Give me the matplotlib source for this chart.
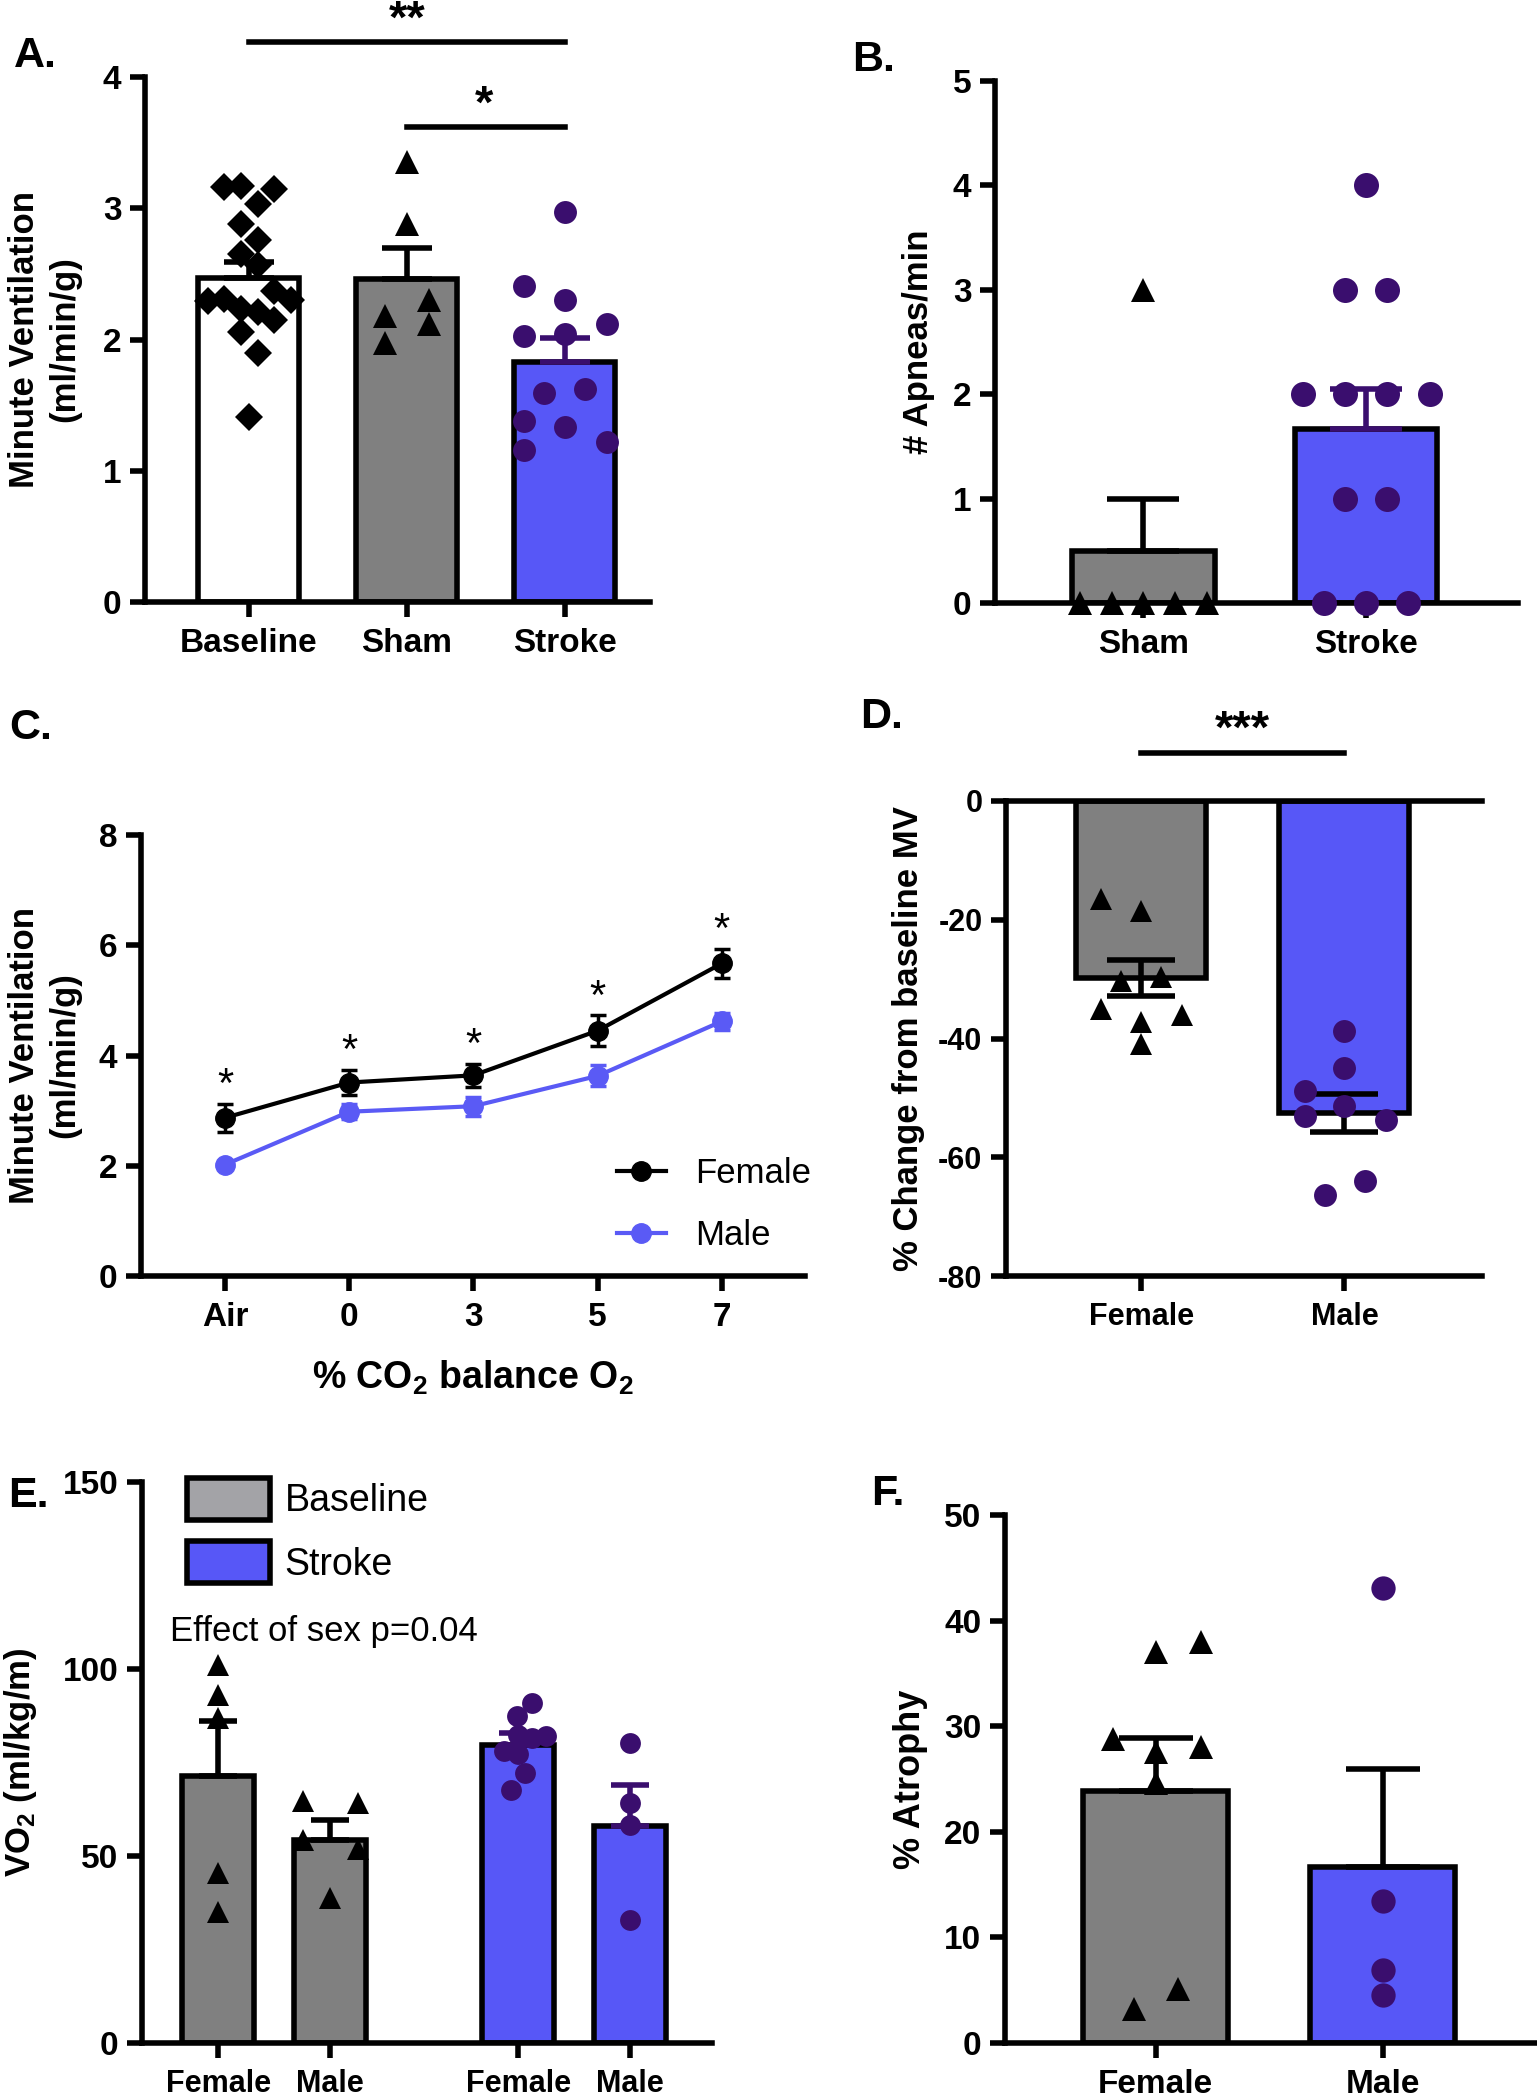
import numpy as np
import matplotlib
matplotlib.use("Agg")
import matplotlib.pyplot as plt
from matplotlib.patches import Patch
from matplotlib.lines import Line2D

plt.rcParams['font.family'] = ['Liberation Sans', 'DejaVu Sans']
plt.rcParams['axes.unicode_minus'] = False
plt.rcParams['mathtext.default'] = 'regular'

# ---------------- data ----------------
# Panel A
a_groups = ['Baseline', 'Sham', 'Stroke']
a_means = [2.47, 2.46, 1.83]
a_sems = [0.12, 0.24, 0.18]
a_baseline_pts = [3.16, 3.17, 3.15, 3.03, 2.88, 2.76, 2.65, 2.57, 2.29, 2.31,
                  2.37, 2.30, 2.23, 2.21, 2.15, 2.06, 1.90, 1.41]
a_baseline_jit = [-0.16, -0.05, 0.16, 0.06, -0.05, 0.06, -0.05, 0.06, -0.26, -0.16,
                  0.16, 0.265, -0.05, 0.06, 0.16, -0.05, 0.06, 0.0]
a_sham_pts = [3.35, 2.88, 2.18, 1.97, 2.30, 2.12]
a_sham_jit = [0, 0, -0.135, -0.135, 0.14, 0.14]
a_stroke_pts = [2.97, 2.41, 2.30, 2.12, 2.03, 2.04, 1.59, 1.62, 1.38, 1.33, 1.22, 1.16]
a_stroke_jit = [0, -0.26, 0, 0.265, -0.26, 0, -0.13, 0.13, -0.26, 0, 0.265, -0.26]

# Panel B
b_groups = ['Sham', 'Stroke']
b_means = [0.5, 1.67]
b_sems = [0.5, 0.38]
b_sham_pts = [0, 0, 0, 0, 0, 3]
b_sham_jit = [-0.284, -0.142, 0, 0.142, 0.284, 0]
b_stroke_pts = [4, 3, 3, 2, 2, 2, 2, 1, 1, 0, 0, 0]
b_stroke_jit = [0, -0.093, 0.095, -0.284, -0.093, 0.095, 0.288, -0.093, 0.095, -0.189, 0, 0.19]

# Panel C
c_labels = ['Air', '0', '3', '5', '7']
c_female_mean = [2.87, 3.51, 3.64, 4.45, 5.67]
c_female_sem = [0.25, 0.23, 0.21, 0.28, 0.27]
c_male_mean = [2.02, 2.98, 3.08, 3.63, 4.62]
c_male_sem = [0.06, 0.14, 0.17, 0.19, 0.15]
c_sig = ['*', '*', '*', '*', '*']

# Panel D
d_groups = ['Female', 'Male']
d_means = [-29.8, -52.5]
d_sems = [3.1, 3.2]
d_female_pts = [-16.5, -18.6, -30.3, -29.6, -35.0, -37.2, -36.1, -41.0]
d_female_jit = [-0.2, 0, -0.1, 0.1, -0.2, 0, 0.2, 0]
d_male_pts = [-38.8, -44.9, -48.8, -51.4, -53.1, -53.7, -64.0, -66.4]
d_male_jit = [0, 0, -0.196, 0, -0.196, 0.204, 0.1, -0.096]

# Panel E
e_labels = ['Female', 'Male', 'Female', 'Male']
e_conditions = ['Baseline', 'Baseline', 'Stroke', 'Stroke']
e_means = [71.5, 54.3, 79.6, 58.0]
e_sems = [14.5, 5.3, 3.4, 10.9]
e_bf_pts = [101.0, 93.1, 86.9, 45.5, 34.9]
e_bf_jit = [0, 0, 0, 0, 0]
e_bm_pts = [64.6, 64.2, 54.3, 52.0, 38.9]
e_bm_jit = [-0.24, 0.25, -0.24, 0.25, 0]
e_sf_pts = [90.9, 87.5, 82.4, 81.5, 82.2, 78.2, 77.4, 72.3, 67.6]
e_sf_jit = [0.127, -0.008, 0, 0.127, 0.246, -0.131, 0, 0.06, -0.067]
e_sm_pts = [80.2, 64.2, 58.2, 32.9]
e_sm_jit = [0, 0, 0, 0]

# Panel F
f_groups = ['Female', 'Male']
f_means = [23.9, 16.7]
f_sems = [5.0, 9.2]
f_female_pts = [37.0, 38.0, 28.8, 28.0, 27.6, 24.6, 5.1, 3.2]
f_female_jit = [0, 0.2, -0.19, 0.2, 0, 0, 0.1, -0.094]
f_male_pts = [43.1, 13.4, 6.9, 4.5]
f_male_jit = [0, 0, 0, 0]

# ---------------- style ----------------
GRAY = '#808080'
BLUE = '#5757F7'
PURPLE = '#3A0E6E'
LEG_GRAY = '#A3A3A7'
MALE_LINE = '#5A5AF5'
LW = 4

W, H = 1537, 2100
fig = plt.figure(figsize=(W / 100, H / 100), dpi=100)
fig.patch.set_facecolor('white')


def add_ax(left, top, right, bottom):
    return fig.add_axes([left / W, 1 - bottom / H, (right - left) / W, (bottom - top) / H])


def style(ax, ylab_size=24, xlab_size=24):
    for s in ['top', 'right']:
        ax.spines[s].set_visible(False)
    for s in ['left', 'bottom']:
        ax.spines[s].set_linewidth(LW)
        ax.spines[s].set_capstyle('projecting')
    ax.tick_params(axis='both', direction='out', length=11, width=LW, pad=6)
    ax.tick_params(axis='y', labelsize=ylab_size)
    ax.tick_params(axis='x', labelsize=xlab_size, pad=8)
    for lab in ax.get_xticklabels() + ax.get_yticklabels():
        lab.set_fontweight('bold')
    ax.set_facecolor('none')


def panel_letter(x, y, s):
    fig.text(x / W, 1 - y / H, s, fontsize=31, fontweight='bold', ha='center', va='center')


def bars(ax, x, means, sems, colors, ecolors, capsize, two_sided=False):
    ax.bar(x, means, width=0.64, color=colors, edgecolor='black', linewidth=LW, zorder=2)
    for xi, m, s, ec in zip(x, means, sems, ecolors):
        lower = s if two_sided else 0
        ax.errorbar([xi], [m], yerr=[[lower], [s]], fmt='none', ecolor=ec, elinewidth=LW,
                    capsize=capsize, capthick=LW, zorder=3)


def points(ax, xc, pts, jit, marker, color, ms):
    ax.plot(np.array(jit) + xc, pts, linestyle='none', marker=marker, color=color,
            markersize=ms, markeredgewidth=0, zorder=4, clip_on=False)


# ---------------- Panel A ----------------
axA = add_ax(145, 77, 650, 602)
xa = np.arange(len(a_groups))
bars(axA, xa, a_means, a_sems, ['white', GRAY, BLUE], ['black', 'black', PURPLE], 18)
points(axA, 0, a_baseline_pts, a_baseline_jit, 'D', 'black', 14.5)
points(axA, 1, a_sham_pts, a_sham_jit, '^', 'black', 17.5)
points(axA, 2, a_stroke_pts, a_stroke_jit, 'o', PURPLE, 16.5)
axA.set_xlim(-0.658, 2.54)
axA.set_ylim(0, 4)
axA.set_yticks([0, 1, 2, 3, 4])
axA.set_xticks(xa)
axA.set_xticklabels(a_groups)
axA.plot([0, 2], [4.27, 4.27], color='black', lw=LW, clip_on=False)
axA.text(1, 4.43, '**', fontsize=34, fontweight='bold', ha='center', va='center', clip_on=False)
axA.plot([1, 2], [3.62, 3.62], color='black', lw=LW, clip_on=False)
axA.text(1.49, 3.78, '*', fontsize=34, fontweight='bold', ha='center', va='center')
axA.set_ylabel('Minute Ventilation\n(ml/min/g)', fontsize=25, fontweight='bold', va='center',
               linespacing=1.3)
axA.yaxis.set_label_coords(-0.199, 0.5)
style(axA)
panel_letter(35, 56, 'A.')

# ---------------- Panel B ----------------
axB = add_ax(995, 81, 1518, 603)
xb = np.arange(len(b_groups))
bars(axB, xb, b_means, b_sems, [GRAY, BLUE], ['black', PURPLE], 26)
points(axB, 0, b_sham_pts, b_sham_jit, '^', 'black', 17.5)
points(axB, 1, b_stroke_pts, b_stroke_jit, 'o', PURPLE, 18)
axB.set_xlim(-0.667, 1.683)
axB.set_ylim(0, 5)
axB.set_yticks([0, 1, 2, 3, 4, 5])
axB.set_xticks(xb)
axB.set_xticklabels(b_groups)
axB.set_ylabel('# Apneas/min', fontsize=25, fontweight='bold', va='center')
axB.yaxis.set_label_coords(-0.146, 0.5)
style(axB)
panel_letter(874, 60, 'B.')

# ---------------- Panel C ----------------
axC = add_ax(141, 835, 805, 1276)
xc = np.arange(len(c_labels))
axC.errorbar(xc, c_female_mean, yerr=c_female_sem, color='black', lw=3, marker='o',
             markersize=14, elinewidth=2.5, capsize=6, capthick=2.5, zorder=4, clip_on=False)
axC.errorbar(xc, c_male_mean, yerr=c_male_sem, color=MALE_LINE, lw=3, marker='o',
             markersize=14, elinewidth=2.5, capsize=6, capthick=2.5, zorder=3, clip_on=False)
for xi, m, s, sig in zip(xc, c_female_mean, c_female_sem, c_sig):
    axC.text(xi, m + s + 0.32, sig, fontsize=30, ha='center', va='center')
axC.set_xlim(-0.676, 4.67)
axC.set_ylim(0, 8)
axC.set_yticks([0, 2, 4, 6, 8])
axC.set_xticks(xc)
axC.set_xticklabels(c_labels)
axC.set_xlabel('% CO$_2$ balance O$_2$', fontsize=27, fontweight='bold', labelpad=18)
axC.set_ylabel('Minute Ventilation\n(ml/min/g)', fontsize=25, fontweight='bold', va='center',
               linespacing=1.3)
axC.yaxis.set_label_coords(-0.145, 0.5)
handles = [Line2D([], [], color='black', lw=3, marker='o', markersize=14),
           Line2D([], [], color=MALE_LINE, lw=3, marker='o', markersize=14)]
axC.legend(handles, ['Female', 'Male'], loc='upper left', bbox_to_anchor=(0.717, 0.27),
           frameon=False, fontsize=25, handlelength=1.4, handletextpad=0.85,
           labelspacing=0.85, borderpad=0, borderaxespad=0)
style(axC)
panel_letter(31, 728, 'C.')

# ---------------- Panel D ----------------
axD = add_ax(1006, 801, 1482, 1276)
xd = np.arange(len(d_groups))
bars(axD, xd, d_means, d_sems, [GRAY, BLUE], ['black', 'black'], 24.5, two_sided=True)
points(axD, 0, d_female_pts, d_female_jit, '^', 'black', 16.5)
points(axD, 1, d_male_pts, d_male_jit, 'o', PURPLE, 16.5)
axD.set_xlim(-0.665, 1.677)
axD.set_ylim(-80, 0)
axD.set_yticks([0, -20, -40, -60, -80])
axD.set_xticks(xd)
axD.set_xticklabels(d_groups)
axD.plot([0, 1], [8.1, 8.1], color='black', lw=LW, clip_on=False)
axD.text(0.5, 11.8, '***', fontsize=34, fontweight='bold', ha='center', va='center')
axD.set_ylabel('% Change from baseline MV', fontsize=25, fontweight='bold', va='center')
axD.yaxis.set_label_coords(-0.204, 0.5)
style(axD, ylab_size=22, xlab_size=22)
axD.spines['top'].set_visible(True)
axD.spines['top'].set_linewidth(LW)
panel_letter(882, 717, 'D.')

# ---------------- Panel E ----------------
axE = add_ax(142, 1482, 712, 2043)
xe = np.array([0, 1, 2.68, 3.68])
ecolors_fill = [GRAY if c == 'Baseline' else BLUE for c in e_conditions]
ecolors_err = ['black' if c == 'Baseline' else PURPLE for c in e_conditions]
bars(axE, xe, e_means, e_sems, ecolors_fill, ecolors_err, 13.5)
points(axE, xe[0], e_bf_pts, e_bf_jit, '^', 'black', 16)
points(axE, xe[1], e_bm_pts, e_bm_jit, '^', 'black', 16)
points(axE, xe[2], e_sf_pts, e_sf_jit, 'o', PURPLE, 15)
points(axE, xe[3], e_sm_pts, e_sm_jit, 'o', PURPLE, 15)
axE.set_xlim(-0.68, 4.41)
axE.set_ylim(0, 150)
axE.set_yticks([0, 50, 100, 150])
axE.set_xticks(xe)
axE.set_xticklabels(e_labels)
axE.text(-0.432, 110, 'Effect of sex p=0.04', fontsize=25, ha='left', va='center')
leg_handles = [Patch(facecolor=LEG_GRAY, edgecolor='black', linewidth=LW),
               Patch(facecolor=BLUE, edgecolor='black', linewidth=LW)]
axE.legend(leg_handles, ['Baseline', 'Stroke'], loc='upper left', bbox_to_anchor=(0.079, 1.008),
           frameon=False, fontsize=27, handlelength=2.2, handleheight=1.35,
           handletextpad=0.4, labelspacing=0.58, borderpad=0, borderaxespad=0)
axE.set_ylabel('VO$_2$ (ml/kg/m)', fontsize=25, fontweight='bold', va='center')
axE.yaxis.set_label_coords(-0.214, 0.5)
style(axE, ylab_size=24, xlab_size=22)
panel_letter(28, 1496, 'E.')

# ---------------- Panel F ----------------
axF = add_ax(1005, 1515, 1537, 2043)
xf = np.arange(len(f_groups))
bars(axF, xf, f_means, f_sems, [GRAY, BLUE], ['black', 'black'], 26.5)
points(axF, 0, f_female_pts, f_female_jit, '^', 'black', 17.5)
points(axF, 1, f_male_pts, f_male_jit, 'o', PURPLE, 17.5)
axF.set_xlim(-0.664, 1.68)
axF.set_ylim(0, 50)
axF.set_yticks([0, 10, 20, 30, 40, 50])
axF.set_xticks(xf)
axF.set_xticklabels(f_groups)
axF.set_ylabel('% Atrophy', fontsize=26, fontweight='bold', va='center')
axF.yaxis.set_label_coords(-0.177, 0.5)
style(axF)
panel_letter(888, 1494, 'F.')

fig.savefig('out.png', dpi=100, facecolor='white')
